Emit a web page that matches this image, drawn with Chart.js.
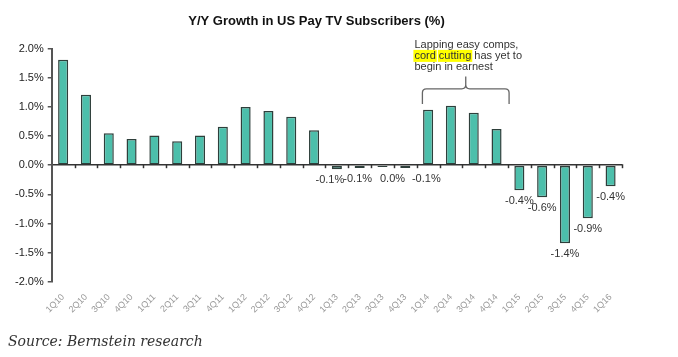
<!DOCTYPE html>
<html>
<head>
<meta charset="utf-8">
<script src="https://cdn.jsdelivr.net/npm/chart.js@4.4.1/dist/chart.umd.min.js"></script>
<style>
  html, body { margin: 0; padding: 0; background: #fff; }
  #wrap { position: relative; width: 678px; height: 357px; }
  #source { position: absolute; left: 8px; top: 333px; font-family: "DejaVu Serif", serif; font-style: italic; font-size: 14px; color: #333; white-space: nowrap; }
</style>
</head>
<body>
<div id="wrap">
  <canvas id="c" width="678" height="357"></canvas>
  <div id="source">Source: Bernstein research</div>
</div>
<script>
const categories = ['1Q10','2Q10','3Q10','4Q10','1Q11','2Q11','3Q11','4Q11','1Q12','2Q12','3Q12','4Q12',
  '1Q13','2Q13','3Q13','4Q13','1Q14','2Q14','3Q14','4Q14','1Q15','2Q15','3Q15','4Q15','1Q16'];
const growth = [1.81,1.21,0.55,0.45,0.51,0.41,0.51,0.66,1.00,0.93,0.83,0.60,
  -0.07,-0.05,-0.03,-0.05,0.95,1.02,0.90,0.62,-0.43,-0.55,-1.34,-0.91,-0.36];
const valueLabels = ['','','','','','','','','','','','',
  '-0.1%','-0.1%','0.0%','-0.1%','','','','','-0.4%','-0.6%','-1.4%','-0.9%','-0.4%'];
const yTicks = [2.0,1.5,1.0,0.5,0.0,-0.5,-1.0,-1.5,-2.0];
const titleText = 'Y/Y Growth in US Pay TV Subscribers (%)';
const noteLines = ['Lapping easy comps,', 'cord cutting has yet to', 'begin in earnest'];
const noteRange = [16, 19]; // 1Q14 .. 4Q14

// label placement tweaks (px), as in the original
const labelDx = {12: -7, 13: -2, 14: 10, 15: 21};

const extras = {
  id: 'extras',
  afterDatasetsDraw(chart) {
    const ctx = chart.ctx;
    const xs = chart.scales.x, ys = chart.scales.y;
    const cw = xs.getPixelForValue(1) - xs.getPixelForValue(0);
    const y0 = ys.getPixelForValue(0);
    ctx.save();
    // x tick marks on zero line
    ctx.strokeStyle = '#333';
    ctx.lineWidth = 1.5;
    for (let i = 0; i < categories.length; i++) {
      const x = Math.round(xs.getPixelForValue(i) + cw / 2) + 0.5;
      ctx.beginPath();
      ctx.moveTo(x, y0 - 1);
      ctx.lineTo(x, y0 + 3);
      ctx.stroke();
    }
    // value labels
    const meta = chart.getDatasetMeta(0);
    ctx.font = '11px "Liberation Sans", Arial, sans-serif';
    ctx.fillStyle = '#333';
    ctx.textAlign = 'center';
    ctx.textBaseline = 'middle';
    meta.data.forEach((bar, i) => {
      const t = valueLabels[i];
      if (!t) return;
      const base = Math.max(bar.y, y0 + 3);
      ctx.fillText(t, bar.x + (labelDx[i] || 0), base + 11);
    });
    // annotation brace
    const xl = xs.getPixelForValue(noteRange[0]) - cw * 0.25;
    const xr = xs.getPixelForValue(noteRange[1]) + cw * 0.55;
    const xm = (xl + xr) / 2;
    const yEnd = ys.getPixelForValue(1.05);
    const yH = ys.getPixelForValue(1.31);
    const yTop = ys.getPixelForValue(1.52);
    const r = 4;
    ctx.strokeStyle = '#666';
    ctx.lineWidth = 1.3;
    ctx.beginPath();
    ctx.moveTo(xl, yEnd);
    ctx.lineTo(xl, yH + r);
    ctx.quadraticCurveTo(xl, yH, xl + r, yH);
    ctx.lineTo(xm - r, yH);
    ctx.quadraticCurveTo(xm, yH, xm, yH - r);
    ctx.lineTo(xm, yTop);
    ctx.moveTo(xm, yH - r);
    ctx.quadraticCurveTo(xm, yH, xm + r, yH);
    ctx.lineTo(xr - r, yH);
    ctx.quadraticCurveTo(xr, yH, xr, yH + r);
    ctx.lineTo(xr, yEnd);
    ctx.stroke();
    // annotation text
    const tx = xl - 8;
    const lineYs = [ys.getPixelForValue(2.07), ys.getPixelForValue(1.875), ys.getPixelForValue(1.68)];
    ctx.font = '11px "Liberation Sans", Arial, sans-serif';
    ctx.textAlign = 'left';
    ctx.textBaseline = 'middle';
    // highlight "cord" and "cutting"
    const w1 = ctx.measureText('cord').width;
    const wsp = ctx.measureText('cord ').width;
    const w2 = ctx.measureText('cutting').width;
    ctx.fillStyle = '#ffff00';
    ctx.fillRect(tx - 1, lineYs[1] - 6, w1 + 2, 12);
    ctx.fillRect(tx + wsp - 1, lineYs[1] - 6, w2 + 2, 12);
    ctx.fillStyle = '#333';
    noteLines.forEach((l, i) => ctx.fillText(l, tx, lineYs[i]));
    ctx.restore();
  }
};

new Chart(document.getElementById('c'), {
  type: 'bar',
  data: {
    labels: categories,
    datasets: [{
      data: growth,
      backgroundColor: '#4cbfab',
      borderColor: '#2e3f3b',
      borderWidth: 1.5,
      borderSkipped: false,
      barPercentage: 0.49,
      categoryPercentage: 0.9
    }]
  },
  options: {
    responsive: false,
    animation: false,
    layout: { padding: { left: 11, right: 56, top: 0, bottom: 40 } },
    plugins: {
      legend: { display: false },
      tooltip: { enabled: false },
      title: {
        display: true,
        text: titleText,
        color: '#111',
        font: { family: '"Liberation Sans", Arial, sans-serif', size: 13, weight: 'bold' },
        padding: { top: 14, bottom: 19 }
      }
    },
    scales: {
      x: {
        grid: { display: false },
        border: { display: false },
        ticks: {
          color: '#999',
          font: { family: '"Liberation Sans", Arial, sans-serif', size: 9 },
          minRotation: 45, maxRotation: 45, padding: 2, autoSkip: false
        }
      },
      y: {
        min: -2, max: 2,
        afterBuildTicks(scale) { scale.ticks = yTicks.map(v => ({ value: v })); },
        grid: {
          color: c => (c.tick && c.tick.value === 0) ? '#333' : 'rgba(0,0,0,0)',
          lineWidth: 1.5,
          drawTicks: true,
          tickLength: 4,
          tickColor: '#555'
        },
        border: { display: true, color: '#555', width: 2 },
        ticks: {
          color: '#222',
          padding: 4,
          font: { family: '"Liberation Sans", Arial, sans-serif', size: 11 },
          callback: v => v.toFixed(1) + '%'
        }
      }
    }
  },
  plugins: [extras]
});
</script>
</body>
</html>
